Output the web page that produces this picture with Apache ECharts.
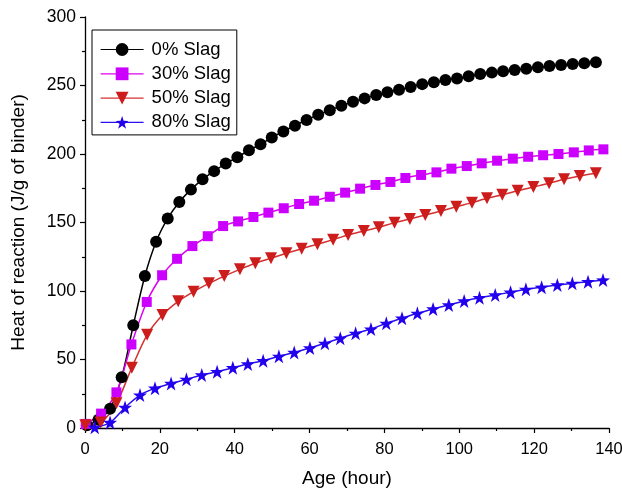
<!DOCTYPE html>
<html>
<head>
<meta charset="utf-8">
<script src="https://cdn.jsdelivr.net/npm/echarts@6/dist/echarts.min.js"></script>
<style>
  html, body { margin: 0; padding: 0; background: #fff; }
  #chart { width: 622px; height: 490px; }
</style>
</head>
<body>
<div id="chart"></div>
<script>
// 各系列数据
const seriesNames = ['0% Slag', '30% Slag', '50% Slag', '80% Slag']

const ages0 = [0.5, 3.6, 6.7, 9.8, 12.9, 16.0, 19.0, 22.1, 25.2, 28.3, 31.4, 34.5, 37.6, 40.7, 43.8,
  46.9, 49.9, 53.0, 56.1, 59.2, 62.3, 65.4, 68.5, 71.6, 74.7, 77.8, 80.8, 83.9, 87.0, 90.1,
  93.2, 96.3, 99.4, 102.5, 105.6, 108.7, 111.7, 114.8, 117.9, 121.0, 124.1, 127.2, 130.3, 133.4, 136.5]
const heat0 = [2, 6, 14, 37, 75, 111, 136, 153, 165, 174, 181.5, 187.5, 193, 197.6, 202.7,
  207.1, 212, 216.5, 220.7, 224.8, 228.7, 231.9, 235.3, 238.2, 240.6, 243.1, 245, 246.9, 248.9, 251,
  252.4, 254, 255.1, 256.7, 258.4, 259.4, 260.4, 261.3, 262.3, 263.3, 264.2, 265, 265.7, 266.3, 266.9]

const ages30 = [0.2, 4.3, 8.4, 12.4, 16.5, 20.6, 24.6, 28.7, 32.8, 36.9, 40.9, 45.0, 49.0, 53.1, 57.2,
  61.2, 65.4, 69.5, 73.5, 77.6, 81.6, 85.6, 89.8, 93.9, 97.9, 102.0, 106.0, 110.1, 114.3, 118.4,
  122.4, 126.5, 130.6, 134.6, 138.5]
const heat30 = [3, 10.5, 26, 61, 92, 111.5, 123.5, 132.8, 140, 147.4, 150.8, 154, 157.2, 160.4, 163.5,
  165.9, 168.8, 171.8, 174.7, 177.4, 179.6, 182.5, 184.7, 186.6, 189.3, 191.2, 193.2, 195.1, 196.6, 198,
  199.1, 200, 201.2, 202.6, 203.4]

const ages50 = [0.1, 4.2, 8.4, 12.5, 16.6, 20.7, 24.9, 29.0, 33.1, 37.2, 41.4, 45.5, 49.7, 53.8, 57.9,
  62.1, 66.3, 70.3, 74.5, 78.5, 82.7, 86.8, 90.9, 95.1, 99.2, 103.4, 107.4, 111.5, 115.6, 119.8,
  124.0, 128.0, 132.2, 136.5]
const heat50 = [2, 4, 18, 44, 68, 82.5, 92.5, 99.5, 105.6, 110.9, 115.8, 120.2, 123.9, 127.5, 130.9,
  134.1, 137.5, 140.9, 143.8, 146.5, 149.9, 152.6, 155.5, 158.4, 161.5, 164.5, 167.7, 170.3, 173.2, 175.9,
  178.6, 181.5, 183.9, 185.9]

const ages80 = [2.6, 6.7, 10.7, 14.7, 18.7, 23.0, 27.1, 31.2, 35.3, 39.5, 43.5, 47.6, 51.8, 55.9, 60.1,
  64.1, 68.2, 72.3, 76.4, 80.5, 84.7, 88.8, 93.0, 97.2, 101.3, 105.4, 109.6, 113.7, 117.8, 122.0,
  126.2, 130.2, 134.4, 138.4]
const heat80 = [0.5, 4, 15, 24, 29, 32.5, 35.5, 38.7, 41.1, 44, 46.7, 49.1, 52.3, 55.1, 58.4,
  61.8, 65.5, 69.1, 72.2, 76.4, 80.1, 83.7, 86.9, 89.8, 92.7, 95.1, 97.1, 99.1, 101.2, 102.7,
  104.4, 105.6, 106.8, 108]

const FONT = 'Liberation Sans, Arial, sans-serif'
const STAR = 'path://M50,0 L61.8,35.1 L98.8,35.3 L69.1,57.3 L80.3,92.5 L50,71 L19.7,92.5 L30.9,57.3 L1.2,35.3 L38.2,35.1 Z'

function pairs(xs, ys) {
  return xs.map((x, i) => [x, ys[i]])
}

function makeSeries(name, xs, ys, lineColor, markColor, symbol, size, rotate) {
  return {
    name,
    type: 'line',
    data: pairs(xs, ys),
    smooth: 0.3,
    symbol,
    symbolSize: size,
    symbolRotate: rotate || 0,
    showAllSymbol: true,
    lineStyle: { width: 1.5, color: lineColor },
    itemStyle: { color: markColor, borderWidth: 0 },
    emphasis: { disabled: true }
  }
}

const chart = echarts.init(document.getElementById('chart'))

chart.setOption({
  animation: false,
  backgroundColor: '#fff',
  textStyle: { fontFamily: FONT },
  grid: { left: 85, right: 13, top: 17, bottom: 62, containLabel: false, outerBoundsMode: 'none' },
  legend: {
    left: 92,
    top: 30,
    orient: 'vertical',
    data: seriesNames,
    itemWidth: 43,
    itemHeight: 16,
    itemGap: 5.3,
    padding: [10, 6, 3, 8],
    borderColor: '#000',
    borderWidth: 1,
    backgroundColor: '#fff',
    lineStyle: { width: 1.2 },
    textStyle: { fontSize: 18.5, color: '#000', fontFamily: FONT, padding: [0, 0, 0, 3] }
  },
  xAxis: {
    type: 'value',
    min: 0,
    max: 140,
    interval: 20,
    name: 'Age (hour)',
    nameLocation: 'middle',
    nameGap: 41,
    nameTextStyle: { fontSize: 19, color: '#000', fontFamily: FONT },
    axisLine: { lineStyle: { color: '#000', width: 1.3 } },
    axisTick: { show: true, length: 5, lineStyle: { color: '#000', width: 1.2 } },
    minorTick: { show: true, splitNumber: 2, length: 3, lineStyle: { color: '#000', width: 1.2 } },
    axisLabel: { fontSize: 16.5, color: '#000', margin: 13, fontFamily: FONT },
    splitLine: { show: false }
  },
  yAxis: {
    type: 'value',
    min: 0,
    max: 300,
    interval: 50,
    name: 'Heat of reaction (J/g of binder)',
    nameLocation: 'middle',
    nameGap: 57,
    nameTextStyle: { fontSize: 19, color: '#000', fontFamily: FONT },
    axisLine: { show: true, lineStyle: { color: '#000', width: 1.3 } },
    axisTick: { show: true, length: 5, lineStyle: { color: '#000', width: 1.2 } },
    minorTick: { show: true, splitNumber: 2, length: 3, lineStyle: { color: '#000', width: 1.2 } },
    axisLabel: { fontSize: 17.5, color: '#000', margin: 9, fontFamily: FONT },
    splitLine: { show: false }
  },
  series: [
    makeSeries(seriesNames[0], ages0, heat0, '#000000', '#000000', 'circle', 12),
    makeSeries(seriesNames[1], ages30, heat30, '#dd00ee', '#cc00ff', 'rect', 10),
    makeSeries(seriesNames[2], ages50, heat50, '#d43030', '#cc1c1c', 'triangle', 12, 180),
    makeSeries(seriesNames[3], ages80, heat80, '#2a10f0', '#2200ee', STAR, 14)
  ]
})
</script>
</body>
</html>
